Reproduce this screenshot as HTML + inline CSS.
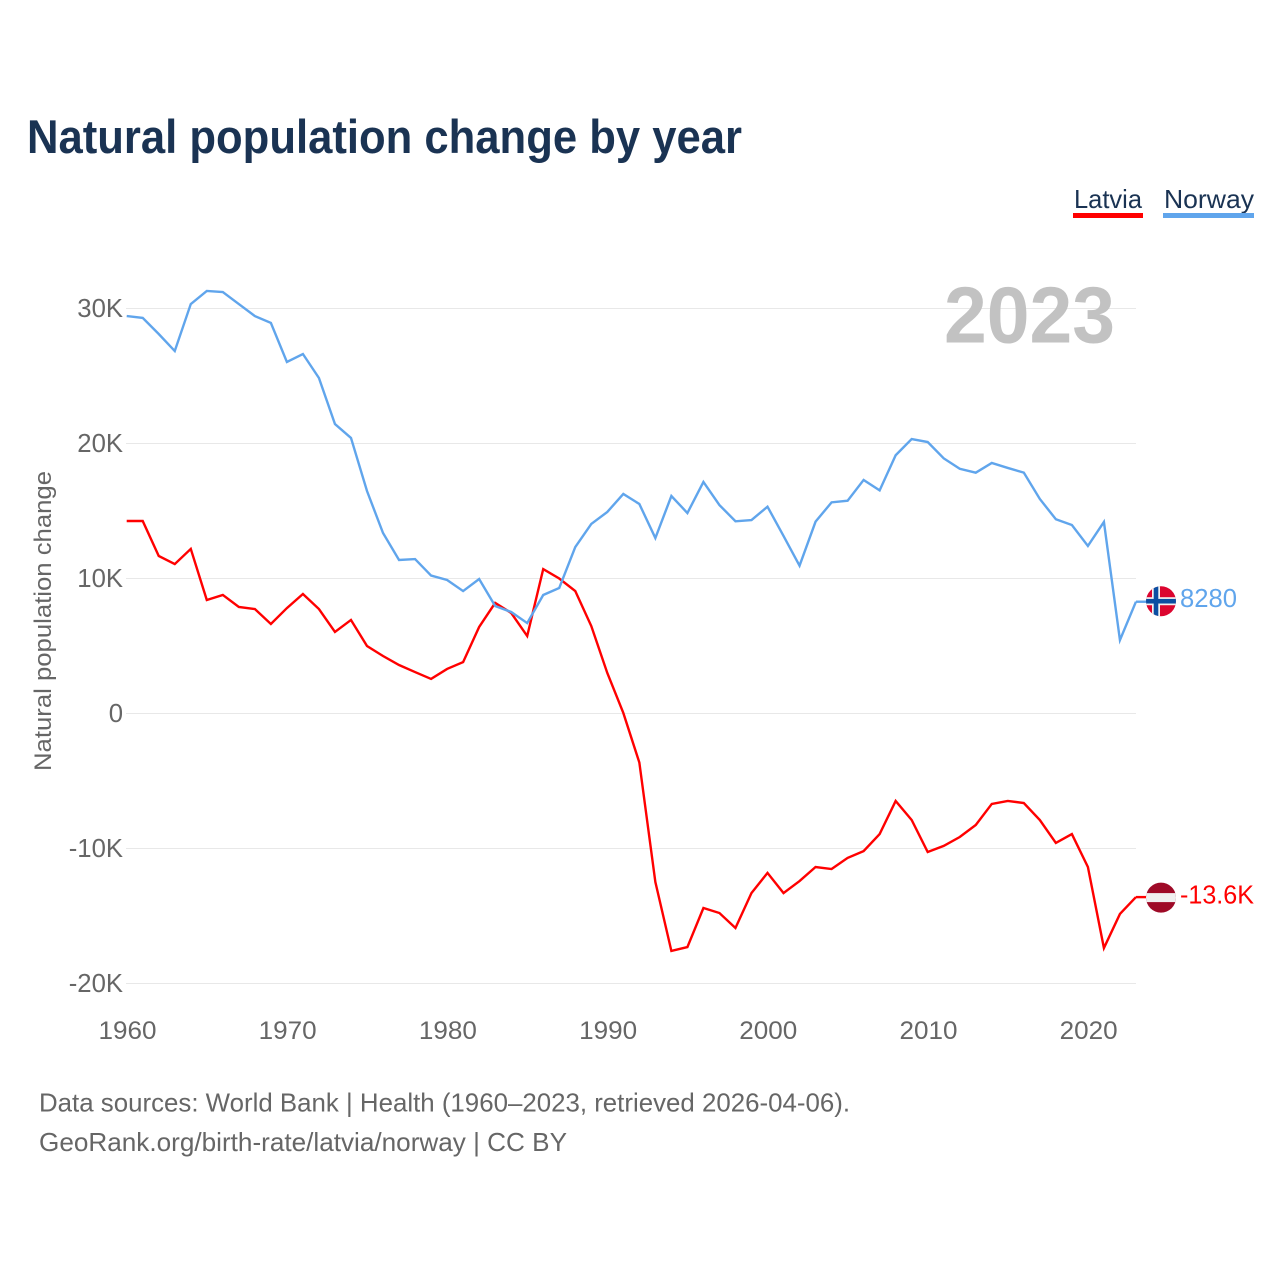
<!DOCTYPE html>
<html lang="en">
<head>
<meta charset="utf-8">
<title>Natural population change by year</title>
<style>
html,body{margin:0;padding:0;background:#fff;}
#chart{display:block;width:1280px;height:1280px;font-family:"Liberation Sans",sans-serif;}
</style>
</head>
<body>
<svg id="chart" xmlns="http://www.w3.org/2000/svg" width="1280" height="1280" viewBox="0 0 1280 1280">
  <rect x="0" y="0" width="1280" height="1280" fill="#fff"/>
  <defs>
    <clipPath id="clip-no"><circle cx="0" cy="0" r="15"/></clipPath>
    <clipPath id="clip-lv"><circle cx="0" cy="0" r="15"/></clipPath>
  </defs>
  <text x="27" y="153" font-size="47" font-weight="700" fill="#1a3353" textLength="715" lengthAdjust="spacingAndGlyphs">Natural population change by year</text>
  <g>
    <g>
      <text x="1074" y="208" font-size="26" fill="#1a3353" textLength="68" lengthAdjust="spacingAndGlyphs">Latvia</text>
      <rect x="1073" y="213" width="70" height="5" fill="#ff0000"/>
    </g>
    <g>
      <text x="1164" y="208" font-size="26" fill="#1a3353" textLength="90" lengthAdjust="spacingAndGlyphs">Norway</text>
      <rect x="1163" y="213" width="91" height="5" fill="#60a5ec"/>
    </g>
  </g>
  <g id="grid"></g>
  <text x="944" y="342.5" font-size="80" font-weight="700" fill="#c2c2c2" textLength="171" lengthAdjust="spacingAndGlyphs">2023</text>
  <g id="y-ticks"></g>
  <g id="x-ticks"></g>
  <text transform="translate(51,621) rotate(-90)" text-anchor="middle" font-size="24" fill="#666" textLength="300" lengthAdjust="spacingAndGlyphs">Natural population change</text>
  <g id="series"></g>
  <g id="ends"></g>
  <text x="39" y="1111.5" font-size="26" fill="#666" textLength="811" lengthAdjust="spacingAndGlyphs">Data sources: World Bank | Health (1960–2023, retrieved 2026-04-06).</text>
  <text x="39" y="1151" font-size="26" fill="#666" textLength="528" lengthAdjust="spacingAndGlyphs">GeoRank.org/birth-rate/latvia/norway | CC BY</text>
</svg>
<script>
const years = [];
for (let yr = 1960; yr <= 2023; yr++) years.push(yr);
const latviaValues = [14260,14260,11670,11070,12190,8410,8780,7890,7740,6630,7810,8850,7740,6040,6930,5000,4260,3590,3070,2560,3300,3810,6410,8190,7450,5740,10700,10000,9070,6480,3000,40,-3630,-12480,-17590,-17300,-14410,-14780,-15890,-13300,-11810,-13300,-12410,-11370,-11520,-10700,-10190,-8930,-6480,-7890,-10260,-9810,-9150,-8260,-6700,-6480,-6630,-7890,-9590,-8930,-11370,-17370,-14850,-13600];
const norwayValues = [29440,29300,28110,26850,30330,31300,31220,30330,29440,28930,26040,26630,24850,21440,20410,16480,13370,11370,11440,10220,9890,9070,9960,7960,7520,6700,8780,9300,12330,14040,14930,16260,15520,13000,16110,14850,17150,15440,14240,14330,15320,13150,10950,14210,15640,15760,17300,16530,19130,20330,20110,18900,18130,17840,18560,18190,17840,15890,14390,13960,12410,14190,5440,8280];
const yTickValues = [30000,20000,10000,0,-10000,-20000];
const yTickLabels = ["30K","20K","10K","0","-10K","-20K"];
const xTickValues = [1960,1970,1980,1990,2000,2010,2020];
const latviaEndLabel = "-13.6K";
const norwayEndLabel = "8280";

const NS = "http://www.w3.org/2000/svg";
function xScale(yr) { return 126.7 + (yr - 1960) * 16.02; }
function yScale(v) { return 713.5 - v * 0.0135; }
function mk(tag, attrs, parent) {
  const el = document.createElementNS(NS, tag);
  for (const k in attrs) el.setAttribute(k, attrs[k]);
  parent.appendChild(el);
  return el;
}
const gridG = document.getElementById("grid");
const yG = document.getElementById("y-ticks");
const xG = document.getElementById("x-ticks");
const seriesG = document.getElementById("series");
const endsG = document.getElementById("ends");

yTickValues.forEach(function (v, i) {
  const gl = mk("line", {x1: 126, x2: 1136, y1: yScale(v), y2: yScale(v), stroke: "#e8e8e8", "stroke-width": 1}, gridG);
  
  
  const label = yTickLabels[i];
  const t = mk("text", {x: 123, y: yScale(v) + 8.5, "text-anchor": "end", "font-size": 25.7, fill: "#666"}, yG);
  
  
  t.textContent = label;
});
xTickValues.forEach(function (yr) {
  const t = mk("text", {x: xScale(yr) + 0.8, y: 1039, "text-anchor": "middle", "font-size": 25, fill: "#666", textLength: 58, lengthAdjust: "spacingAndGlyphs"}, xG);
  
  
  t.textContent = String(yr);
});

function pathFor(values) {
  return values.map(function (v, i) {
    return (i ? "L" : "M") + xScale(years[i]).toFixed(2) + " " + yScale(v).toFixed(2);
  }).join(" ");
}
const latviaLine = mk("path", {d: pathFor(latviaValues), fill: "none", stroke: "#ff0000", "stroke-width": 2.4, "stroke-linejoin": "miter"}, seriesG);


const norwayLine = mk("path", {d: pathFor(norwayValues), fill: "none", stroke: "#60a5ec", "stroke-width": 2.4, "stroke-linejoin": "miter"}, seriesG);



function endValue(values) { return values[values.length - 1]; }
const lastX = xScale(years[years.length - 1]);

// Norway end marker
const ny = yScale(endValue(norwayValues));
const nLead = mk("line", {x1: lastX, x2: 1146, y1: ny, y2: ny, stroke: "#60a5ec", "stroke-width": 2.4}, endsG);


const nFlag = mk("g", {transform: "translate(1161," + (ny - 0.5) + ")", "clip-path": "url(#clip-no)"}, endsG);


mk("rect", {x: -15, y: -16, width: 30, height: 32, fill: "#dc052f"}, nFlag);
mk("rect", {x: -15, y: -4, width: 30, height: 8, fill: "#f2f2f2"}, nFlag);
mk("rect", {x: -9, y: -16, width: 8, height: 32, fill: "#f2f2f2"}, nFlag);
mk("rect", {x: -15, y: -2.3, width: 30, height: 4.6, fill: "#0b4ea2"}, nFlag);
mk("rect", {x: -7.3, y: -16, width: 4.6, height: 32, fill: "#0b4ea2"}, nFlag);
const nText = mk("text", {x: 1180, y: ny + 5.5, "font-size": 26, fill: "#60a5ec", textLength: 57, lengthAdjust: "spacingAndGlyphs"}, endsG);


nText.textContent = norwayEndLabel;

// Latvia end marker
const ly = yScale(endValue(latviaValues));
const lLead = mk("line", {x1: lastX, x2: 1146, y1: ly, y2: ly, stroke: "#ff0000", "stroke-width": 2.4}, endsG);


const lFlag = mk("g", {transform: "translate(1161," + (ly + 0.5) + ")", "clip-path": "url(#clip-lv)"}, endsG);


mk("rect", {x: -15, y: -16, width: 30, height: 32, fill: "#9e0a27"}, lFlag);
mk("rect", {x: -15, y: -4.5, width: 30, height: 9, fill: "#f0f0f0"}, lFlag);
const lText = mk("text", {x: 1180, y: ly + 6.5, "font-size": 26, fill: "#ff0000", textLength: 74, lengthAdjust: "spacingAndGlyphs"}, endsG);


lText.textContent = latviaEndLabel;
</script>
</body>
</html>
